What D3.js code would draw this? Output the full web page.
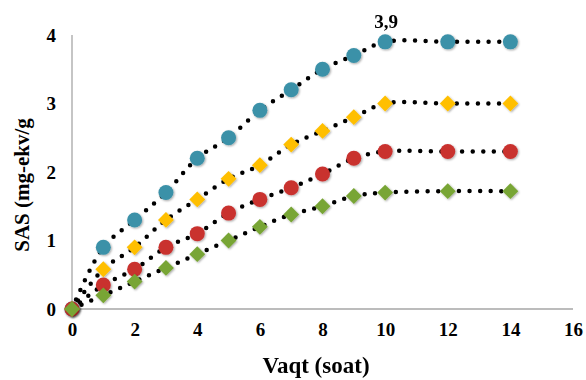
<!DOCTYPE html>
<html>
<head>
<meta charset="utf-8">
<script src="https://cdn.jsdelivr.net/npm/d3@7"></script>
<style>
  body { margin: 0; background: #fff; }
</style>
</head>
<body>
<div id="chart"></div>
<script>
// SAS vs time data
const hours = [0, 1, 2, 3, 4, 5, 6, 7, 8, 9, 10, 12, 14];
const tealSeries = [0, 0.9, 1.3, 1.7, 2.2, 2.5, 2.9, 3.2, 3.5, 3.7, 3.9, 3.9, 3.9];
const yellowSeries = [0, 0.58, 0.9, 1.3, 1.6, 1.9, 2.1, 2.4, 2.6, 2.8, 3.0, 3.0, 3.0];
const redSeries = [0, 0.35, 0.58, 0.9, 1.1, 1.4, 1.6, 1.77, 1.97, 2.2, 2.3, 2.3, 2.3];
const greenSeries = [0, 0.2, 0.4, 0.6, 0.8, 1.0, 1.2, 1.38, 1.5, 1.65, 1.7, 1.72, 1.72];
const xTicks = [0, 2, 4, 6, 8, 10, 12, 14, 16];
const yTicks = [0, 1, 2, 3, 4];

const series = [
    { values: tealSeries, color: '#3b91a8', shape: 'circle' },
    { values: yellowSeries, color: '#ffbf00', shape: 'diamond' },
    { values: redSeries, color: '#c9302f', shape: 'circle' },
    { values: greenSeries, color: '#78a535', shape: 'diamond' }
];

const FONT = '"Liberation Serif", "Times New Roman", serif';
const width = 586, height = 380;
const svg = d3.select('#chart').append('svg')
    .attr('width', width)
    .attr('height', height);

const defs = svg.append('defs');
const shadow = defs.append('filter').attr('id', 'shadow')
    .attr('x', '-50%').attr('y', '-50%').attr('width', '200%').attr('height', '200%');
shadow.append('feDropShadow')
    .attr('dx', 1).attr('dy', 1).attr('stdDeviation', 1)
    .attr('flood-color', '#000').attr('flood-opacity', 0.35);

const x = d3.scaleLinear().domain([0, 16]).range([72, 573]);
const y = d3.scaleLinear().domain([0, 4]).range([309, 35]);

// axes
const xAxis = svg.append('g')
    .attr('transform', `translate(0,${y(0)})`)
    .call(d3.axisBottom(x).tickValues(xTicks).tickSize(0).tickPadding(14).tickFormat(d3.format('d')));
const yAxis = svg.append('g')
    .attr('transform', `translate(${x(0)},0)`)
    .call(d3.axisLeft(y).tickValues(yTicks).tickSize(0).tickPadding(16).tickFormat(d3.format('d')));

[xAxis, yAxis].forEach(g => {
    g.attr('font-family', null);
    g.select('.domain').attr('stroke', '#a6a6a6').attr('stroke-width', 1.3);
    g.selectAll('text')
        .attr('fill', '#000')
        .style('font-family', FONT)
        .style('font-size', '19px')
        .style('font-weight', 'bold');
});
yAxis.select('.domain').attr('d', `M0,${y(0)}V${y(4)}`);
xAxis.select('.domain').attr('d', `M${x(0)},0H${x(16)}`);

// dotted smoothed lines
const line = d3.line()
    .x((d, i) => x(hours[i]))
    .y(d => y(d))
    .curve(d3.curveCatmullRom.alpha(0.5));

series.forEach(s => {
    svg.append('path')
        .attr('d', line(s.values))
        .attr('fill', 'none')
        .attr('stroke', '#000')
        .attr('stroke-width', 4.5)
        .attr('stroke-linecap', 'round')
        .attr('stroke-dasharray', '0 10.5');
});

// markers
const diamond = d3.symbol().type(d3.symbolDiamond2).size(160);
series.forEach(s => {
    const g = svg.append('g').attr('filter', 'url(#shadow)');
    if (s.shape === 'circle') {
        g.selectAll('circle')
            .data(s.values)
            .enter().append('circle')
            .attr('cx', (d, i) => x(hours[i]))
            .attr('cy', d => y(d))
            .attr('r', 7.5)
            .attr('fill', s.color);
    } else {
        g.selectAll('path')
            .data(s.values)
            .enter().append('path')
            .attr('d', diamond)
            .attr('transform', (d, i) => `translate(${x(hours[i])},${y(d)})`)
            .attr('fill', s.color);
    }
});

const title = (sel, size) => sel
    .style('font-family', FONT)
    .style('font-weight', 'bold')
    .style('font-size', size + 'px')
    .attr('fill', '#000');

// annotation
svg.append('text')
    .attr('x', x(10) + 1)
    .attr('y', y(3.9) - 14)
    .attr('text-anchor', 'middle')
    .call(title, 19)
    .text('3,9');

// axis titles
svg.append('text')
    .attr('x', 316)
    .attr('y', 373)
    .attr('text-anchor', 'middle')
    .call(title, 23)
    .text('Vaqt (soat)');

svg.append('text')
    .attr('transform', 'translate(29,185) rotate(-90)')
    .attr('text-anchor', 'middle')
    .call(title, 21)
    .text('SAS (mg-ekv/g');
</script>
</body>
</html>
